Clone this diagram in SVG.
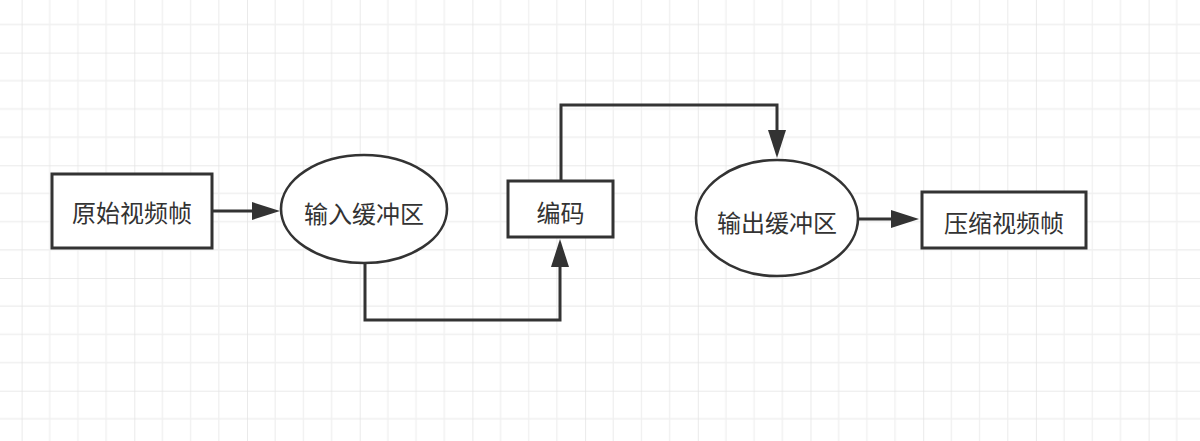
<svg xmlns="http://www.w3.org/2000/svg" width="1200" height="441" viewBox="0 0 1200 441">
<style>
.box{fill:#ffffff;stroke:#333333;stroke-width:3}
.ell{fill:#ffffff;stroke:#333333;stroke-width:2.6}
.lbl{font-family:"Noto Sans CJK SC","Noto Sans",sans-serif;font-size:24px;fill:#333333;text-anchor:middle;dominant-baseline:central}
.conn{fill:none;stroke:#333333;stroke-width:3;marker-end:url(#arr)}
</style>
<defs>
<pattern id="grid" patternUnits="userSpaceOnUse" x="21.6" y="52.6" width="112.7" height="112.7">
<path d="M28.175,0V112.7M56.35,0V112.7M84.525,0V112.7M0,28.175H112.7M0,56.35H112.7M0,84.525H112.7" stroke="#f0f0f0" stroke-width="1.3" fill="none"/>
<path d="M0,0V112.7M0,0H112.7" stroke="#e3e3e3" stroke-width="1.5" fill="none"/>
</pattern>
<marker id="arr" viewBox="0 0 28 18" refX="0" refY="9" markerWidth="28" markerHeight="18" markerUnits="userSpaceOnUse" orient="auto">
<path d="M0,0L28,9L0,18Z" fill="#333333"/>
</marker>
</defs>
<rect width="1200" height="441" fill="#ffffff"/>
<rect width="1200" height="441" fill="url(#grid)"/>
<g id="connectors">
<path class="conn" d="M212,211H252"/>
<path class="conn" d="M365,263V320H560V267"/>
<path class="conn" d="M561,181V105H777V130"/>
<path class="conn" d="M858,219H891"/>
</g>
<g id="n1"><rect class="box" x="52" y="174" width="160" height="74"/><text class="lbl" x="132" y="211">原始视频帧</text></g>
<g id="n2"><ellipse class="ell" cx="364" cy="209" rx="83" ry="54"/><text class="lbl" x="364" y="212">输入缓冲区</text></g>
<g id="n3"><rect class="box" x="508" y="181" width="105" height="56"/><text class="lbl" x="560.5" y="211">编码</text></g>
<g id="n4"><ellipse class="ell" cx="777" cy="218" rx="81" ry="58"/><text class="lbl" x="777" y="221">输出缓冲区</text></g>
<g id="n5"><rect class="box" x="922" y="192" width="164" height="56"/><text class="lbl" x="1004" y="221">压缩视频帧</text></g>
</svg>
